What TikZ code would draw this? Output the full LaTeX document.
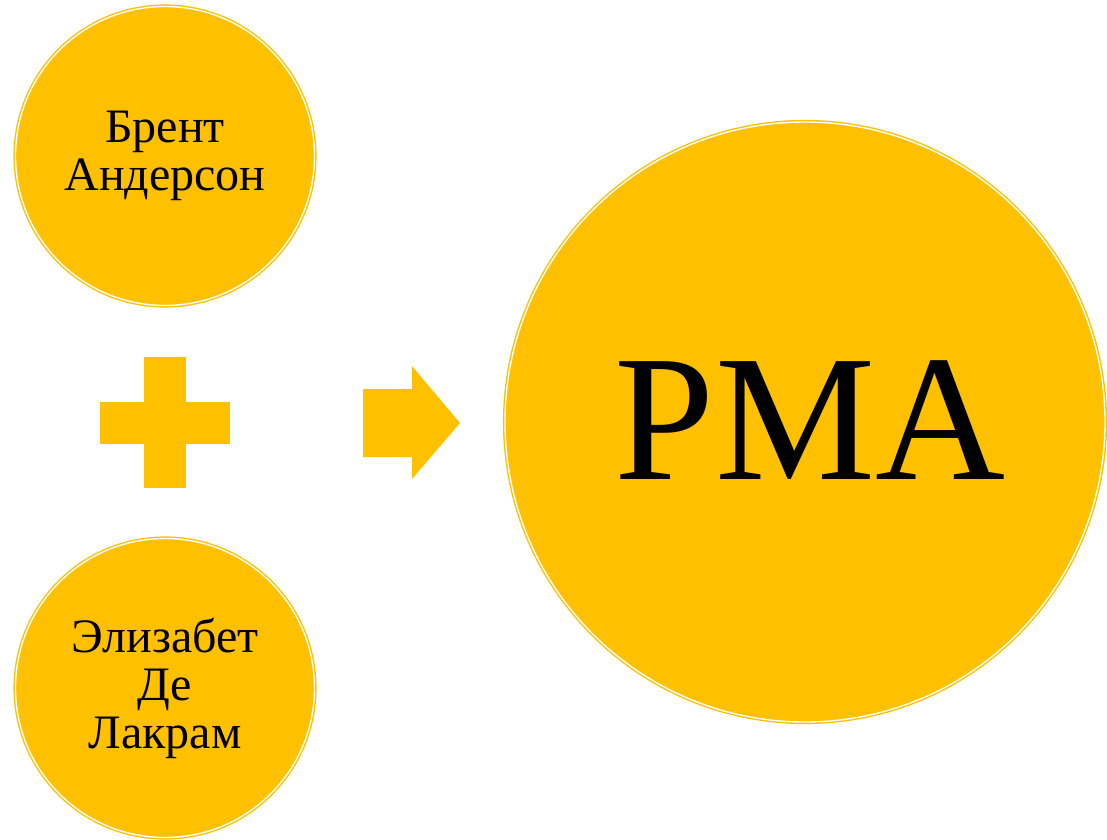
\documentclass[tikz,border=0pt]{standalone}
\usepackage{fontspec}
\setmainfont{Liberation Serif}
\definecolor{gold}{HTML}{FFC000}
\begin{document}
\begin{tikzpicture}[x=1pt,y=-1pt,
  ring/.style={circle, fill=gold, draw=gold, double=white, double distance=1.4pt, line width=1.4pt, inner sep=0pt, align=center, text=black},
  small/.style={ring, minimum size=299pt, font=\fontsize{48}{48}\selectfont},
  big/.style={ring, minimum size=600pt}]
\useasboundingbox (0,0) rectangle (1107,839);
\node[small] (brent) at (165,156) {Брент\\Андерсон};
\node[small] (eliz) at (165,688) {Элизабет\\Де\\Лакрам};
\node[big] (pma) at (805,422) {};
\node[font=\fontsize{180}{180}\selectfont, inner sep=0pt] (pmatext) at (810,420) {PMA};
\fill[gold] (100,402) rectangle (230,443.5);
\fill[gold] (144,357) rectangle (186,488);
\fill[gold] (363,389) -- (412,389) -- (412,366) -- (460,423) -- (412,479) -- (412,457) -- (363,457) -- cycle;
\end{tikzpicture}
\end{document}
